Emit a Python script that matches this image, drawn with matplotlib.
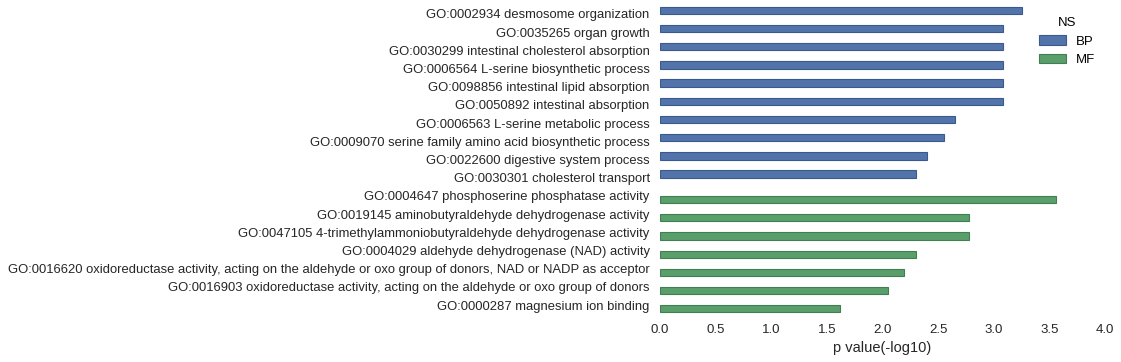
import matplotlib
matplotlib.use("Agg")
import matplotlib.pyplot as plt
import numpy as np

plt.rcParams['font.family'] = ['Liberation Sans', 'DejaVu Sans']

# GO terms, top to bottom
terms = [
    "GO:0002934 desmosome organization",
    "GO:0035265 organ growth",
    "GO:0030299 intestinal cholesterol absorption",
    "GO:0006564 L-serine biosynthetic process",
    "GO:0098856 intestinal lipid absorption",
    "GO:0050892 intestinal absorption",
    "GO:0006563 L-serine metabolic process",
    "GO:0009070 serine family amino acid biosynthetic process",
    "GO:0022600 digestive system process",
    "GO:0030301 cholesterol transport",
    "GO:0004647 phosphoserine phosphatase activity",
    "GO:0019145 aminobutyraldehyde dehydrogenase activity",
    "GO:0047105 4-trimethylammoniobutyraldehyde dehydrogenase activity",
    "GO:0004029 aldehyde dehydrogenase (NAD) activity",
    "GO:0016620 oxidoreductase activity, acting on the aldehyde or oxo group of donors, NAD or NADP as acceptor",
    "GO:0016903 oxidoreductase activity, acting on the aldehyde or oxo group of donors",
    "GO:0000287 magnesium ion binding",
]
ns = ["BP"] * 10 + ["MF"] * 7
pvals = [3.25, 3.08, 3.08, 3.08, 3.08, 3.08, 2.65, 2.55, 2.40, 2.30,
         3.56, 2.775, 2.775, 2.30, 2.19, 2.045, 1.62]

groups = ["BP", "MF"]
colors = {"BP": "#5274ab", "MF": "#5a9e6c"}
edges = {"BP": "#3b5a8c", "MF": "#417f50"}

fig = plt.figure(figsize=(11.21, 3.62), dpi=100)
ax = fig.add_axes([0.5888, 0.132, 0.3969, 0.8545])

y = np.arange(len(terms))
w = 0.8 / len(groups)
for i, g in enumerate(groups):
    vals = [v if n == g else np.nan for v, n in zip(pvals, ns)]
    off = (i - (len(groups) - 1) / 2) * w
    ax.barh(y + off, vals, height=w, color=colors[g], edgecolor=edges[g],
            linewidth=0.8, label=g)

ax.set_yticks(y)
ax.set_yticklabels(terms, fontsize=9.35, color='#262626')
ax.set_ylim(len(terms) - 0.5, -0.5)
ax.set_xlim(0, 4.0)
ax.set_xticks(np.arange(0, 4.01, 0.5))
ax.set_xticklabels(["%.1f" % t for t in np.arange(0, 4.01, 0.5)], fontsize=9.5, color='#262626')
ax.set_xlabel("p value(-log10)", fontsize=10.5, color='#262626')
ax.tick_params(axis='y', length=0, pad=7.5)
ax.tick_params(axis='x', length=0, pad=7)
for s in ax.spines.values():
    s.set_visible(False)

leg = ax.legend(title="NS", loc='upper right', frameon=False, fontsize=9.5,
                title_fontsize=9.5, bbox_to_anchor=(1.005, 1.0))

fig.savefig("out.png", dpi=100)
